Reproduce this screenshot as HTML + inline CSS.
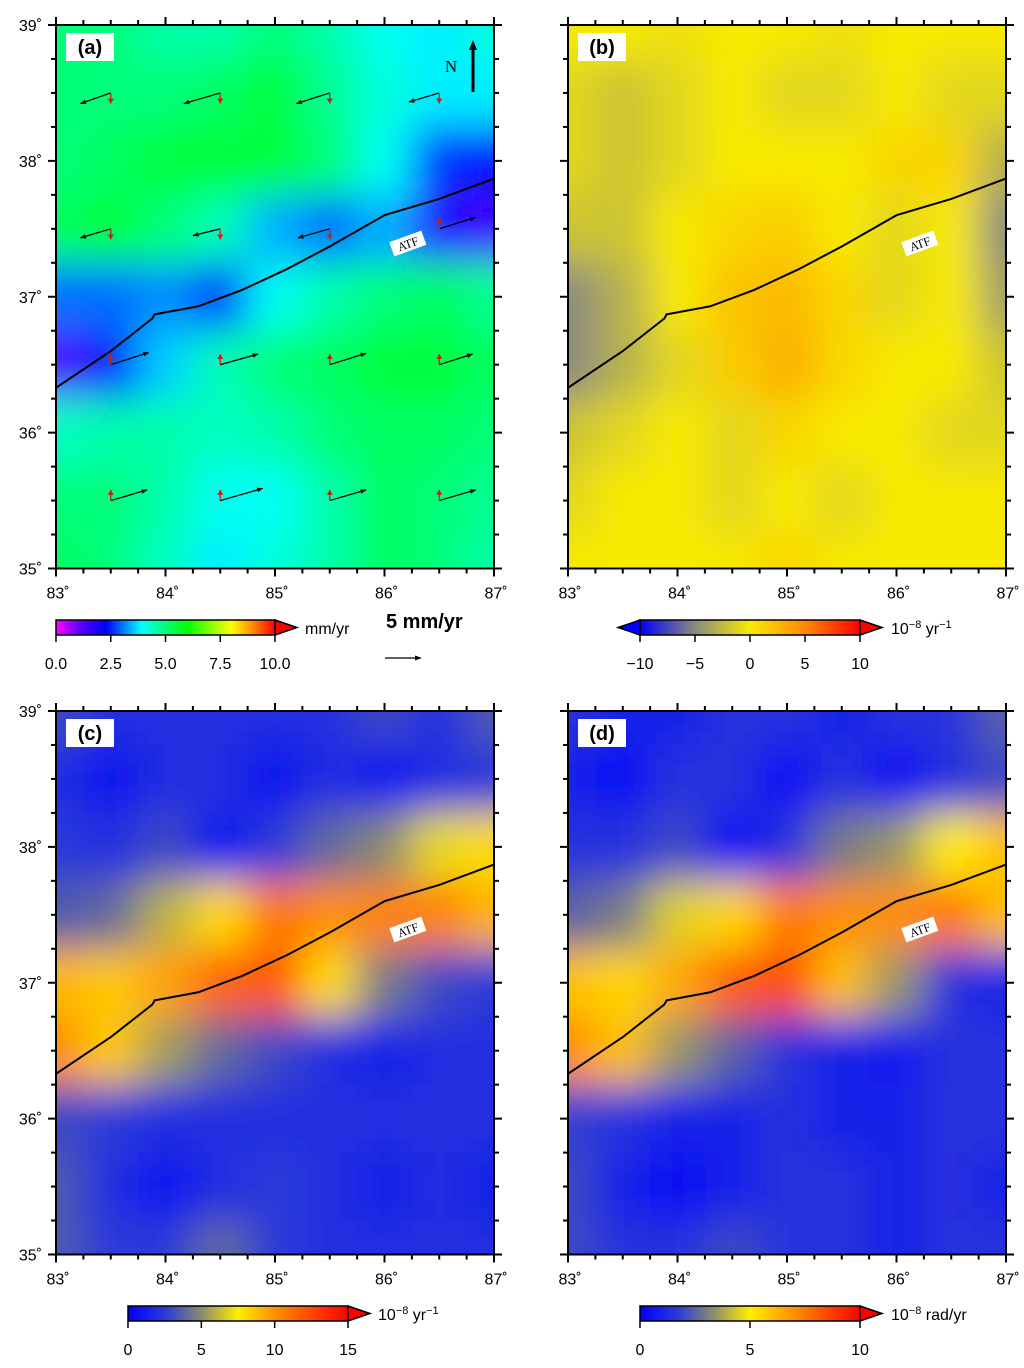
<!DOCTYPE html>
<html><head><meta charset="utf-8">
<style>
html,body{margin:0;padding:0;background:#fff;}
svg{display:block;font-family:"Liberation Sans",sans-serif;}
</style></head>
<body>
<svg id="fig" width="1024" height="1368" viewBox="0 0 1024 1368" xmlns="http://www.w3.org/2000/svg">
<defs>
<filter id="blur" x="-20%" y="-20%" width="140%" height="140%"><feGaussianBlur stdDeviation="20"/></filter>
</defs>
</svg>
<script>
// ---------- data ----------
const lons = [83,83.5,84,84.5,85,85.5,86,86.5,87];
const lats = [39,38.5,38,37.5,37,36.5,36,35.5,35];
const gridA = [
 [5,5,4.6,4.6,5,4.6,4,3.8,4.2],
 [5,5,5,5.2,5.5,4.8,4.2,3.8,3.8],
 [5,5.2,5.5,5.5,5.5,5,4,2.6,2.4],
 [5.2,5.5,5,4.5,3.4,3,3.4,1.8,1.4],
 [3,3,3.2,2.6,4,4.6,5,5.2,4.8],
 [1.3,2.4,3.6,4.5,5,5.2,5.5,5.5,5.2],
 [4.4,4.6,4.6,4.4,4.6,5,5.2,5.2,5],
 [5,5,4.6,4,4,4.6,5.2,5,4.8],
 [5.2,5,4.4,3.8,4.2,4.6,5.2,5,4.6]
];
const gridB = [
 [0,0,-0.5,0,0,-0.5,0,0,0],
 [-1,-2,-1,0,-1,-1,0,-1,-1],
 [-1,-2,-1,0,0,0,1,1,-3],
 [-2,-2,0,1,1.5,0,-1,0,-5],
 [-5,-3,0,2,2.5,1,-1,0,-4],
 [-5,-3,-1,1.5,3,1,0,0,-2],
 [-2,-1,0,-1,1,0,0,-1,-1],
 [-1,0,0,-1,0,-1,0,0,0],
 [0,0,0,0,1,0,0,0,0]
];
const gridC = [
 [3,2,2,2,2,2,3,2,3.5],
 [2,1,2,2,1,2,1,2,2.5],
 [2.5,2,3,1,2.5,4,5,7,8],
 [3.5,4,6,8,11,10,10.5,10.5,9],
 [9,8.5,9.5,11.5,12,8,4.5,3,2.5],
 [10,8.5,5.5,4,3,2,1.5,2,2],
 [3,2.5,2,2,2,2,2,2,2],
 [3.5,2,1,2,2.5,2,1.5,2,1.5],
 [3.5,2.5,2.5,4,2.5,2,2,2,2]
];
const gridD = [
 [1.5,1,1,1.5,1.5,1,1.5,1.5,2.5],
 [1,0.5,1.5,1.5,0.5,1.5,0.5,1.5,2],
 [1.5,1.5,2,0.5,1.5,3,3.5,5,6],
 [2.5,3,4.5,5.5,7.5,7,7,7.5,6],
 [6,5.5,6.5,8,8.5,6,3.5,1.5,1],
 [7,6,3.5,2.5,1.5,1,0.8,1.5,1.5],
 [1.8,1.5,1,1,1.5,1,1,1.5,1.5],
 [2,1,0.5,1,1.5,1.5,1,1.5,1],
 [2,1.5,1.5,2,1.5,1.5,1,1.5,1.5]
];
const faultLon = [83,83.5,83.88,83.9,84.3,84.7,85.1,85.5,86,86.5,87];
const faultLat = [36.33,36.6,36.84,36.87,36.93,37.05,37.2,37.37,37.6,37.72,37.87];
const staLon = [83.5,84.5,85.5,86.5, 83.5,84.5,85.5,86.5, 83.5,84.5,85.5,86.5, 83.5,84.5,85.5,86.5];
const staLat = [38.5,38.5,38.5,38.5, 37.5,37.5,37.5,37.5, 36.5,36.5,36.5,36.5, 35.5,35.5,35.5,35.5];
const staVe = [-4,-4.8,-4.4,-4, -4,-3.6,-4.2,4.8, 5,5,4.8,4.4, 4.8,5.6,4.8,4.8];
const staVn = [-1.4,-1.4,-1.4,-1.2, -1.2,-0.9,-1.2,1.5, 1.6,1.4,1.5,1.4, 1.4,1.6,1.4,1.4];
const staVu = [-1.4,-1.4,-1.4,-1.4, -1.4,-1.4,-1.4,1.4, 1.4,1.4,1.4,1.4, 1.4,1.4,1.4,1.4];
const ticksA = ["0.0","2.5","5.0","7.5","10.0"];
const ticksB = ["−10","−5","0","5","10"];
const ticksC = ["0","5","10","15"];
const ticksD = ["0","5","10"];

// colormaps [value, color]
const cmA = [[0,"#ff00ff"],[1.2,"#5000ff"],[2.3,"#0000ff"],[3.9,"#00ffff"],[6,"#00ff00"],[8,"#ffff00"],[9,"#ff8800"],[10,"#ff0000"]];
const cmB = [[-10,"#0000ff"],[-5,"#8a8a80"],[0,"#f8ea00"],[5,"#ff8800"],[10,"#ff0000"]];
const cmC = [[0,"#0000ff"],[2.5,"#2a3ad8"],[5,"#8a8a70"],[7.5,"#ffee00"],[10,"#ff9000"],[15,"#ff0000"]];
const cmD = [[0,"#0000ff"],[1.7,"#2a3ad8"],[3.3,"#8a8a70"],[5,"#ffee00"],[7,"#ff9000"],[10,"#ff0000"]];

// ---------- helpers ----------
const NS="http://www.w3.org/2000/svg";
const svg=document.getElementById('fig');
function mk(tag,attrs,parent){const e=document.createElementNS(NS,tag);for(const k in attrs)e.setAttribute(k,attrs[k]);(parent||svg).appendChild(e);return e;}
function hex(c){return [parseInt(c.slice(1,3),16),parseInt(c.slice(3,5),16),parseInt(c.slice(5,7),16)];}
function cmap(cm,v){
  if(v<=cm[0][0])return cm[0][1];
  for(let i=1;i<cm.length;i++){if(v<=cm[i][0]){const t=(v-cm[i-1][0])/(cm[i][0]-cm[i-1][0]);const a=hex(cm[i-1][1]),b=hex(cm[i][1]);return "rgb("+a.map((x,j)=>Math.round(x+(b[j]-x)*t)).join(",")+")";}}
  return cm[cm.length-1][1];
}

const panels=[
 {id:"a",x0:56,y0:25,grid:gridA,cm:cmA,ylabels:true,vec:true},
 {id:"b",x0:568,y0:25,grid:gridB,cm:cmB,ylabels:false},
 {id:"c",x0:56,y0:711,grid:gridC,cm:cmC,ylabels:true},
 {id:"d",x0:568,y0:711,grid:gridD,cm:cmD,ylabels:false}
];
const W=438,H=543.5;

panels.forEach(p=>{
  const xs=lon=>p.x0+(lon-83)/4*W;
  const ys=lat=>p.y0+(39-lat)/4*H;
  const g=mk('g',{});
  
  
  const cp=mk('clipPath',{id:'clip'+p.id},svg.querySelector('defs'));
  mk('rect',{x:p.x0,y:p.y0,width:W,height:H},cp);
  const cg=mk('g',{'clip-path':'url(#clip'+p.id+')'},g);
  const fg=mk('g',{filter:'url(#blur)'},cg);
  const dx=W/8,dy=H/8;
  p.grid.forEach((row,i)=>row.forEach((v,j)=>{
    let x1=xs(lons[j])-dx/2,x2=xs(lons[j])+dx/2,y1=ys(lats[i])-dy/2,y2=ys(lats[i])+dy/2;
    if(j==0)x1-=80; if(j==8)x2+=80; if(i==0)y1-=80; if(i==8)y2+=80;
    const r=mk('rect',{x:x1,y:y1,width:x2-x1+0.5,height:y2-y1+0.5,fill:cmap(p.cm,v)},fg);
    
    
  }));
  // fault
  const fl=mk('polyline',{points:faultLon.map((l,k)=>xs(l)+","+ys(faultLat[k])).join(" "),fill:"none",stroke:"#000","stroke-width":2},cg);
  
  
  const tx=(p.id=="a"||p.id=="c")?408:920, ty=p.y0+219;
  const lg=mk('g',{transform:`translate(${tx},${ty}) rotate(-20)`},g);
  
  
  mk('rect',{x:-17,y:-8,width:34,height:15,fill:"#fff"},lg);
  const at=mk('text',{x:0,y:4,"text-anchor":"middle","font-size":12,"font-family":"Liberation Serif,serif"},lg);at.textContent="ATF";
  // vectors
  if(p.vec){
    const s=7.6;
    staLon.forEach((l,k)=>{
      const x=xs(l),y=ys(staLat[k]);
      const vg=mk('g',{},g);
      
      
      const ex=x+staVe[k]*s, ey=y-staVn[k]*s;
      mk('line',{x1:x,y1:y,x2:ex,y2:ey,stroke:"#000","stroke-width":1.3},vg);
      const ang=Math.atan2(ey-y,ex-x);
      const ah=(a)=>ex-6*Math.cos(ang+a)+","+(ey-6*Math.sin(ang+a));
      mk('polygon',{points:`${ex},${ey} ${ah(0.4)} ${ah(-0.4)}`,fill:"#000"},vg);
      const uy=y-staVu[k]*s;
      mk('line',{x1:x,y1:y,x2:x,y2:uy,stroke:"#c81e14","stroke-width":1.3},vg);
      const d=staVu[k]>0?1:-1;
      mk('polygon',{points:`${x},${uy} ${x-3},${uy+5*d} ${x+3},${uy+5*d}`,fill:"#c81e14"},vg);
    });
    const na=mk('g',{},g);
    
    
    mk('line',{x1:473,y1:92,x2:473,y2:48,stroke:"#000","stroke-width":3},na);
    mk('polygon',{points:"473,40 469,50 477,50",fill:"#000"},na);
    const nt=mk('text',{x:451,y:72,"font-size":17,"font-family":"Liberation Serif,serif","text-anchor":"middle"},na);nt.textContent="N";
  }
  // panel label
  const pl=mk('g',{},g);
  
  
  mk('rect',{x:p.x0+10,y:p.y0+8,width:48,height:28,fill:"#fff"},pl);
  const plt=mk('text',{x:p.x0+34,y:p.y0+29,"text-anchor":"middle","font-size":20,"font-weight":"bold"},pl);plt.textContent="("+p.id+")";
  // frame
  mk('rect',{x:p.x0,y:p.y0,width:W,height:H,fill:"none",stroke:"#000","stroke-width":2},g);
  // ticks
  for(let k=0;k<=16;k++){
    const lon=83+k*0.25, x=xs(lon), L=(k%4==0)?8:5;
    mk('line',{x1:x,y1:p.y0,x2:x,y2:p.y0-L,stroke:"#000","stroke-width":2},g);
    mk('line',{x1:x,y1:p.y0+H,x2:x,y2:p.y0+H+L,stroke:"#000","stroke-width":2},g);
    const lat=35+k*0.25, y=ys(lat);
    mk('line',{x1:p.x0,y1:y,x2:p.x0-L,y2:y,stroke:"#000","stroke-width":2},g);
    mk('line',{x1:p.x0+W,y1:y,x2:p.x0+W+L,y2:y,stroke:"#000","stroke-width":2},g);
  }
  for(let d=83;d<=87;d++){
    const t=mk('text',{x:xs(d)+2,y:p.y0+H+30,"text-anchor":"middle","font-size":16},g);
    
    
    t.textContent=d+"˚";
  }
  if(p.ylabels){
    for(let d=35;d<=39;d++){
      const t=mk('text',{x:p.x0-14,y:ys(d)+6,"text-anchor":"end","font-size":16},g);
      
      
      t.textContent=d+"˚";
    }
  }
});

// colorbars
function colorbar(name,x1,x2,y,cm,vmin,vmax,labels,leftTri,unitHTML,unitX){
  const g=mk('g',{});
  
  
  const gid='grad'+name;
  const lg=mk('linearGradient',{id:gid,x1:"0",x2:"1",y1:"0",y2:"0"},svg.querySelector('defs'));
  cm.forEach(s=>{const o=(s[0]-vmin)/(vmax-vmin);if(o>=0&&o<=1)mk('stop',{offset:o,"stop-color":s[1]},lg);});
  const h=15;
  mk('rect',{x:x1,y:y,width:x2-x1,height:h,fill:`url(#${gid})`,stroke:"#000","stroke-width":1.5},g);
  mk('polygon',{points:`${x2},${y} ${x2+22},${y+h/2} ${x2},${y+h}`,fill:cm[cm.length-1][1],stroke:"#000","stroke-width":1.5},g);
  if(leftTri)mk('polygon',{points:`${x1},${y} ${x1-22},${y+h/2} ${x1},${y+h}`,fill:cm[0][1],stroke:"#000","stroke-width":1.5},g);
  labels.forEach((l,k)=>{
    const x=x1+(x2-x1)*k/(labels.length-1);
    mk('line',{x1:x,y1:y+h,x2:x,y2:y+h+7,stroke:"#000","stroke-width":1.5},g);
    const t=mk('text',{x:x,y:y+h+34,"text-anchor":"middle","font-size":16},g);
    
    
    t.textContent=l;
  });
  const u=mk('text',{x:unitX,y:y+14,"font-size":16},g);
  u.innerHTML=unitHTML;
}
colorbar('colorbar-a',56,275,620,cmA,0,10,ticksA,false,'mm/yr',305);
colorbar('colorbar-b',640,860,620,cmB,-10,10,ticksB,true,'10<tspan font-size="11" dy="-6">−8</tspan><tspan dy="6"> yr</tspan><tspan font-size="11" dy="-6">−1</tspan>',891);
colorbar('colorbar-c',128,348,1306,cmC,0,15,ticksC,false,'10<tspan font-size="11" dy="-6">−8</tspan><tspan dy="6"> yr</tspan><tspan font-size="11" dy="-6">−1</tspan>',378);
colorbar('colorbar-d',640,860,1306,cmD,0,10,ticksD,false,'10<tspan font-size="11" dy="-6">−8</tspan><tspan dy="6"> rad/yr</tspan>',891);

// velocity scale
const sc=mk('g',{});


const st=mk('text',{x:386,y:628,"font-size":20,"font-weight":"bold"},sc);st.textContent="5 mm/yr";
mk('line',{x1:385,y1:658,x2:418,y2:658,stroke:"#000","stroke-width":1.3},sc);
mk('polygon',{points:"422,658 415,655.5 415,660.5",fill:"#000"},sc);
</script>
</body></html>
